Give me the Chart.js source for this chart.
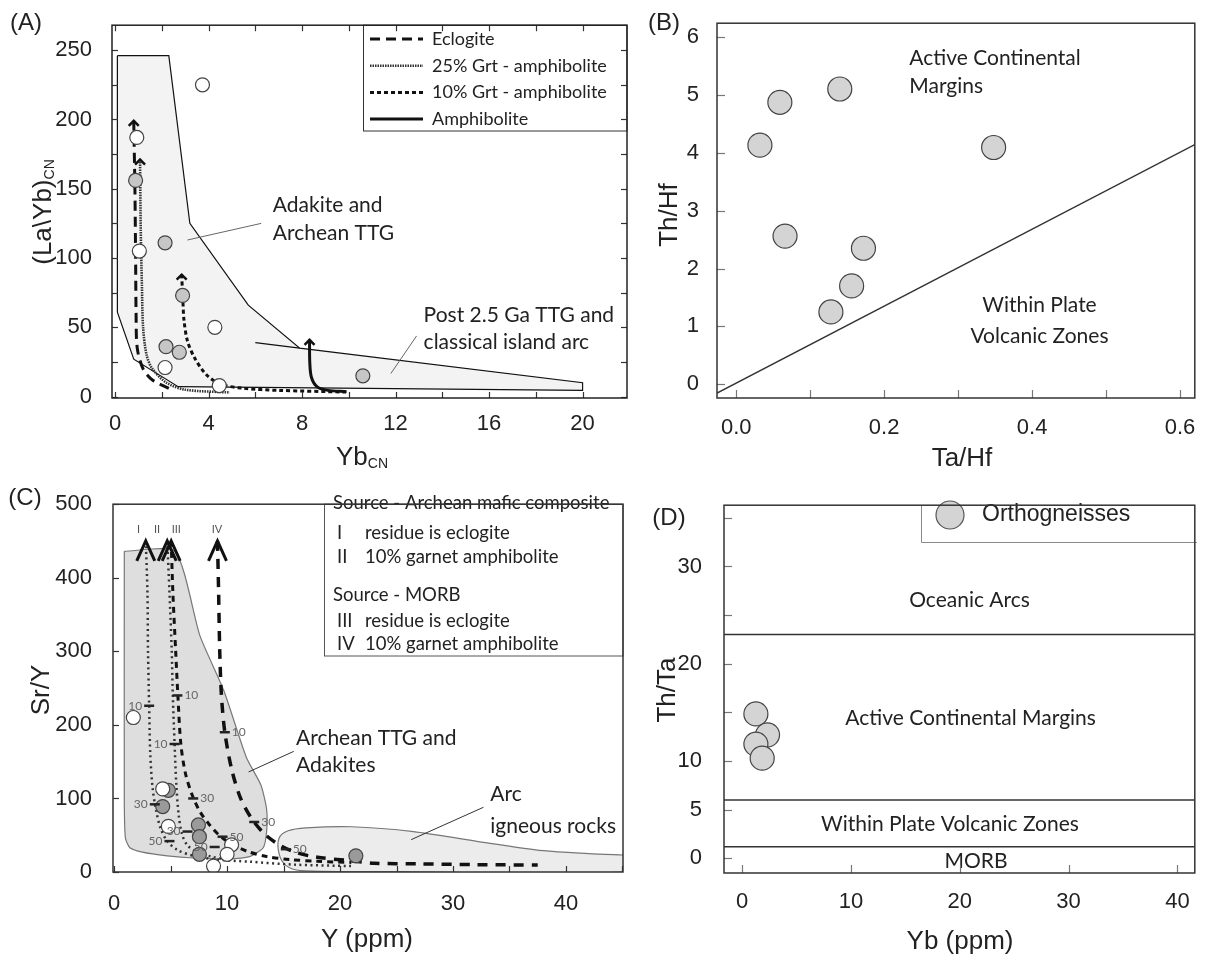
<!DOCTYPE html>
<html>
<head>
<meta charset="utf-8">
<script src="https://cdn.jsdelivr.net/npm/chart.js@4/dist/chart.umd.min.js"></script>
<style>
  body { margin: 0; width: 1208px; height: 956px; overflow: hidden; background: #fff; position: relative;
         font-family: "Liberation Sans", Arial, sans-serif; color: #222; }
  .pane { position: absolute; }
  .ttl { position: absolute; transform: translate(-50%, -50%); white-space: nowrap; font-size: 26px; }
  .rot { transform: translate(-50%, -50%) rotate(-90deg); }
  .tag { position: absolute; transform: translate(-50%, -50%); font-size: 24px; }
  sub { font-size: 14px; vertical-align: -3px; }
</style>
</head>
<body>
<div class="pane" style="left:0;top:0;width:640px;height:478px"><canvas id="cA"></canvas></div>
<div class="pane" style="left:640px;top:0;width:568px;height:478px"><canvas id="cB"></canvas></div>
<div class="pane" style="left:0;top:478px;width:640px;height:478px"><canvas id="cC"></canvas></div>
<div class="pane" style="left:640px;top:478px;width:568px;height:478px"><canvas id="cD"></canvas></div>

<div class="tag" style="left:26px;top:22px">(A)</div>
<div class="tag" style="left:664px;top:22px">(B)</div>
<div class="tag" style="left:25px;top:497px">(C)</div>
<div class="tag" style="left:669px;top:517px">(D)</div>

<div class="ttl rot" style="left:42px;top:212px">(La\Yb)<sub>CN</sub></div>
<div class="ttl" style="left:362px;top:456px">Yb<sub>CN</sub></div>
<div class="ttl rot" style="left:668px;top:215px">Th/Hf</div>
<div class="ttl" style="left:962px;top:457px">Ta/Hf</div>
<div class="ttl rot" style="left:40px;top:690px">Sr/Y</div>
<div class="ttl" style="left:367px;top:938px">Y (ppm)</div>
<div class="ttl rot" style="left:666px;top:690px">Th/Ta</div>
<div class="ttl" style="left:960px;top:940px">Yb (ppm)</div>

<script>
// ---------- (A) (La/Yb)CN vs YbCN ----------
const aXRange = [-0.13, 21.9];
const aYRange = [-1, 268];
const aWhiteX = [3.74, 0.93, 1.04, 4.27, 2.14, 4.46];
const aWhiteY = [225, 187, 105, 50, 21, 8];
const aGreyX = [0.88, 2.14, 2.89, 2.18, 2.75, 10.6];
const aGreyY = [156, 111, 73, 36, 32, 15];
const aFieldX = [0.1, 2.3, 3.2, 5.7, 7.9, 20, 20, 2.7, 0.8, 0.1, 0.1];
const aFieldY = [246, 246, 125, 66, 35, 10, 4.5, 7.2, 27, 61, 246];
const aArcLineX = [6.0, 7.9];
const aArcLineY = [39, 35];
const eclogiteX = [0.8, 0.85, 0.88, 0.9, 0.95, 1.2, 1.6, 2.3];
const eclogiteY = [199, 150, 100, 60, 35, 20, 12, 6];
const grt25X = [1.07, 1.1, 1.15, 1.2, 1.35, 1.6, 2.2, 3.0, 4.9];
const grt25Y = [171, 120, 80, 50, 30, 20, 10, 5, 3];
const grt10X = [2.85, 2.9, 2.95, 3.1, 3.4, 3.9, 4.5, 5.5, 7.0, 9.9];
const grt10Y = [88, 70, 55, 40, 28, 16, 9, 6, 4.5, 3.3];
const amphX = [8.32, 8.33, 8.4, 8.65, 9.1, 9.9];
const amphY = [41, 25, 14, 7, 4.5, 3.6];
const aLegendNames = ["Eclogite", "25% Grt - amphibolite", "10% Grt - amphibolite", "Amphibolite"];

// ---------- (B) Th/Hf vs Ta/Hf ----------
const bXRange = [-0.026, 0.62];
const bYRange = [-0.236, 6.236];
const bX = [0.14, 0.059, 0.032, 0.348, 0.066, 0.172, 0.156, 0.128];
const bY = [5.10, 4.87, 4.13, 4.09, 2.56, 2.35, 1.70, 1.25];
const bLineX = [-0.026, 0.62];
const bLineY = [-0.15, 4.14];

// ---------- (C) Sr/Y vs Y ----------
const cXRange = [-0.1, 45.05];
const cYRange = [0, 500];
const cWhiteX = [1.7, 4.3, 4.8, 10.4, 10.0, 8.8];
const cWhiteY = [210, 113, 62, 37, 24, 8];
const cGreyX = [4.8, 4.3, 7.46, 7.55, 7.55, 21.4];
const cGreyY = [111, 89, 64, 48, 24, 22];
const cFieldX = [0.9, 5.4, 7.6, 9.7, 11.7, 13.0, 13.5, 13.5, 13.2, 12.0, 10.0, 7.0, 4.7, 2.5, 1.4, 1.0, 0.9, 0.9];
const cFieldY = [436, 436, 321, 247, 156, 118, 85, 55, 33, 21, 18, 19, 22, 27, 33, 46, 100, 436];
const cArcX = [45.2, 42, 38, 32, 26.5, 21, 17, 15.4, 14.6, 14.6, 15.2, 16.5, 25, 45.2, 45.2];
const cArcY = [23, 25, 29, 42, 55, 61.5, 60, 56, 46, 25, 9, 2, 0.5, 0.5, 23];
const cIX = [2.8, 2.95, 3.0, 3.1, 3.2, 3.4, 3.7, 4.1, 4.7, 5.6, 7, 9, 12, 16, 21];
const cIY = [450, 380, 300, 226, 160, 115, 85, 60, 42, 30, 22, 17, 14, 10, 8];
const cIIX = [4.7, 4.9, 5.1, 5.2, 5.35, 5.5, 5.7, 6.0, 6.5, 7.4, 8.6, 10];
const cIIY = [450, 380, 300, 238, 175, 120, 80, 52, 36, 27, 21, 17];
const cIIIX = [5.05, 5.2, 5.45, 5.65, 5.9, 6.3, 6.9, 7.6, 8.4, 9.3, 10.4, 11.8, 13.5, 15.5, 18, 21];
const cIIIY = [450, 380, 300, 238, 175, 135, 105, 82, 65, 50, 38, 28, 21, 17, 14.5, 13];
const cIVX = [9.15, 9.25, 9.35, 9.5, 9.8, 10.4, 11.2, 12.2, 13.3, 14.5, 16, 18, 20.5, 23, 27, 32, 37.5];
const cIVY = [450, 380, 300, 240, 190, 140, 100, 72, 52, 38, 27, 20, 16, 12, 11, 10, 9.5];
const cLegendLines = ["Source - Archean mafic composite", "I|residue is eclogite", "II|10% garnet amphibolite",
                      "Source - MORB", "III|residue is eclogite", "IV|10% garnet amphibolite"];

// ---------- (D) Th/Ta vs Yb ----------
const dXRange = [-1.66, 41.6];
const dYRange = [-1.5, 36.3];
const dX = [1.27, 2.34, 1.27, 1.85];
const dY = [14.85, 12.7, 11.75, 10.3];
const dBounds = [23, 6, 1.2];

const LBL = 'Lato, "Noto Sans", sans-serif';
const NUM = '"Liberation Sans", Arial, sans-serif';

function pts(xs, ys) { return xs.map((x, i) => ({ x: x, y: ys[i] })); }

function curve(xs, ys, st) {
  return Object.assign({ data: pts(xs, ys), showLine: true, pointRadius: 0, fill: false,
    borderColor: '#111', borderWidth: 1, tension: 0, order: 5 }, st);
}
function area(xs, ys, fillc, edge, tension) {
  return { data: pts(xs, ys), showLine: true, pointRadius: 0, fill: 'shape', backgroundColor: fillc,
    borderColor: edge, borderWidth: 1.2, tension: tension, order: 10 };
}
function dots(xs, ys, fillc, r) {
  return { data: pts(xs, ys), showLine: false, pointRadius: r, pointBackgroundColor: fillc,
    pointBorderColor: '#444', pointBorderWidth: 1.2, backgroundColor: fillc, borderColor: '#444', order: 0 };
}

const styEcl = { borderDash: [10, 6], borderWidth: 3 };
const sty25 = { borderDash: [1.5, 1], borderWidth: 2.6, borderColor: '#333' };
const sty10 = { borderDash: [4, 3], borderWidth: 3 };
const styAmp = { borderWidth: 3 };

// drawing extras per canvas: texts, ticks, borders, legends
const extras = {
  cA: {
    ticks: ['left', 'right', 'top', 'bottom'], tickLen: 6, frame: '#222', frameW: 1.5, tickColor: '#333',
    notes: [
      { x: 6.75, y: 138, t: "Adakite and" }, { x: 6.75, y: 118, t: "Archean TTG" },
      { x: 13.2, y: 59, t: "Post 2.5 Ga TTG and" }, { x: 13.2, y: 39, t: "classical island arc" }
    ],
    legend: legendA
  },
  cB: {
    ticks: ['left', 'bottom'], tickLen: 8, frame: '#333', frameW: 1.5, tickColor: '#777',
    notes: [
      { x: 0.234, y: 5.63, t: "Active Continental" }, { x: 0.234, y: 5.15, t: "Margins" },
      { x: 0.41, y: 1.37, t: "Within Plate", al: 'center' }, { x: 0.41, y: 0.83, t: "Volcanic Zones", al: 'center' }
    ]
  },
  cC: {
    ticks: ['left', 'bottom'], tickLen: 6, frame: '#333', frameW: 1.5, tickColor: '#333',
    notes: [
      { x: 16.1, y: 182, t: "Archean TTG and" }, { x: 16.1, y: 145, t: "Adakites" },
      { x: 33.3, y: 106, t: "Arc" }, { x: 33.3, y: 62, t: "igneous rocks" },
      { x: 2.15, y: 466, t: "I", al: 'center', f: '11px ' + LBL, c: '#555' },
      { x: 3.8, y: 466, t: "II", al: 'center', f: '11px ' + LBL, c: '#555' },
      { x: 5.5, y: 466, t: "III", al: 'center', f: '11px ' + LBL, c: '#555' },
      { x: 9.1, y: 466, t: "IV", al: 'center', f: '11px ' + LBL, c: '#555' }
    ],
    marks: [
      { x: 3.1, y: 226, t: "10", s: -1 }, { x: 3.6, y: 92, t: "30", s: -1 }, { x: 4.9, y: 42, t: "50", s: -1 },
      { x: 5.35, y: 174, t: "10", s: -1 }, { x: 6.5, y: 55, t: "30", s: -1 }, { x: 8.9, y: 34, t: "50", s: -1 },
      { x: 5.6, y: 240, t: "10", s: 1 }, { x: 7.0, y: 100, t: "30", s: 1 }, { x: 9.6, y: 48, t: "50", s: 1 },
      { x: 9.8, y: 190, t: "10", s: 1 }, { x: 12.4, y: 68, t: "30", s: 1 }, { x: 15.2, y: 31, t: "50", s: 1 }
    ],
    legend: legendC
  },
  cD: {
    ticks: ['left', 'bottom'], tickLen: 8, frame: '#333', frameW: 1.5, tickColor: '#777',
    notes: [
      { x: 20.9, y: 26.5, t: "Oceanic Arcs", al: 'center' },
      { x: 21, y: 14.4, t: "Active Continental Margins", al: 'center' },
      { x: 19.1, y: 3.5, t: "Within Plate Volcanic Zones", al: 'center' },
      { x: 21.5, y: -0.3, t: "MORB", al: 'center' }
    ],
    legend: legendD
  }
};

function legendA(ctx, a) {
  ctx.fillStyle = '#fff'; ctx.strokeStyle = '#333'; ctx.lineWidth = 1;
  ctx.fillRect(363, a.top, a.right - 363, 131 - a.top);
  ctx.strokeRect(363.5, a.top, a.right - 363.5, 131 - a.top);
  const sty = [styEcl, sty25, sty10, styAmp];
  aLegendNames.forEach((name, i) => {
    const y = 39 + i * 26.7;
    ctx.setLineDash(sty[i].borderDash || []);
    ctx.lineWidth = sty[i].borderWidth; ctx.strokeStyle = sty[i].borderColor || '#111';
    ctx.beginPath(); ctx.moveTo(370, y); ctx.lineTo(423, y); ctx.stroke();
    ctx.setLineDash([]);
    ctx.fillStyle = '#222'; ctx.font = '18px ' + LBL; ctx.textAlign = 'left'; ctx.textBaseline = 'middle';
    ctx.fillText(name, 432, y);
  });
}

function legendC(ctx, a) {
  ctx.fillStyle = '#fff'; ctx.strokeStyle = '#555'; ctx.lineWidth = 1;
  ctx.fillRect(324, a.top, a.right - 324, 178 - a.top);
  ctx.strokeRect(324.5, a.top, a.right - 324.5, 178 - a.top);
  const ys = [25, 55, 79, 117, 143, 166];
  ctx.fillStyle = '#222'; ctx.font = '18.5px ' + LBL; ctx.textAlign = 'left'; ctx.textBaseline = 'middle';
  cLegendLines.forEach((s, i) => {
    const parts = s.split('|');
    if (parts.length === 1) ctx.fillText(s, 333, ys[i]);
    else { ctx.fillText(parts[0], 337, ys[i]); ctx.fillText(parts[1], 365, ys[i]); }
  });
}

function legendD(ctx, a) {
  ctx.strokeStyle = '#888'; ctx.lineWidth = 1;
  ctx.beginPath(); ctx.moveTo(281.5, a.top); ctx.lineTo(281.5, 64.5); ctx.lineTo(a.right + 2, 64.5); ctx.stroke();
  ctx.beginPath(); ctx.arc(310, 37, 14, 0, Math.PI * 2);
  ctx.fillStyle = '#d4d4d4'; ctx.fill(); ctx.strokeStyle = '#555'; ctx.lineWidth = 1.2; ctx.stroke();
  ctx.fillStyle = '#222'; ctx.font = '23px ' + NUM; ctx.textAlign = 'left'; ctx.textBaseline = 'middle';
  ctx.fillText("Orthogneisses", 342, 37);
}

const deco = {
  id: 'deco',
  afterDatasetsDraw(chart) {
    const e = extras[chart.canvas.id];
    const ctx = chart.ctx, a = chart.chartArea, sx = chart.scales.x, sy = chart.scales.y;
    ctx.save();
    // arrow heads at the start of the curves
    chart.data.datasets.forEach(ds => {
      if (!ds.arrow) return;
      const p = ds.data[0];
      const px = sx.getPixelForValue(p.x), py = sy.getPixelForValue(p.y);
      const [w, h, lw] = ds.arrow;
      ctx.setLineDash([]); ctx.lineWidth = lw; ctx.strokeStyle = '#111'; ctx.lineJoin = 'miter';
      ctx.beginPath(); ctx.moveTo(px - w, py + h); ctx.lineTo(px, py); ctx.lineTo(px + w, py + h); ctx.stroke();
    });
    // melting percentage marks on curves
    (e.marks || []).forEach(m => {
      const px = sx.getPixelForValue(m.x), py = sy.getPixelForValue(m.y);
      ctx.setLineDash([]); ctx.strokeStyle = '#222'; ctx.lineWidth = 2.5;
      ctx.beginPath(); ctx.moveTo(px - 5, py); ctx.lineTo(px + 5, py); ctx.stroke();
      ctx.fillStyle = '#666'; ctx.font = '12px ' + LBL; ctx.textBaseline = 'middle';
      ctx.textAlign = m.s < 0 ? 'right' : 'left';
      ctx.fillText(m.t, px + m.s * 7, py);
    });
    // region labels
    (e.notes || []).forEach(n => {
      ctx.fillStyle = n.c || '#222'; ctx.font = n.f || ('21px ' + LBL);
      ctx.textAlign = n.al || 'left'; ctx.textBaseline = 'middle';
      ctx.fillText(n.t, sx.getPixelForValue(n.x), sy.getPixelForValue(n.y));
    });
    if (e.legend) e.legend(ctx, a);
    // inward ticks
    ctx.setLineDash([]); ctx.strokeStyle = e.tickColor; ctx.lineWidth = 1.2;
    const L = e.tickLen;
    e.ticks.forEach(side => {
      const sc = (side === 'left' || side === 'right') ? sy : sx;
      sc.ticks.forEach(t => {
        const p = Math.round(sc.getPixelForValue(t.value)) + 0.5;
        ctx.beginPath();
        if (side === 'bottom') { ctx.moveTo(p, a.bottom); ctx.lineTo(p, a.bottom - L); }
        if (side === 'top') { ctx.moveTo(p, a.top); ctx.lineTo(p, a.top + L); }
        if (side === 'left') { ctx.moveTo(a.left, p); ctx.lineTo(a.left + L, p); }
        if (side === 'right') { ctx.moveTo(a.right, p); ctx.lineTo(a.right - L, p); }
        ctx.stroke();
      });
    });
    ctx.strokeStyle = e.frame; ctx.lineWidth = e.frameW;
    ctx.strokeRect(a.left, a.top, a.width, a.height);
    ctx.restore();
  }
};

function axis(range, step, pad, fmt, fit) {
  return {
    type: 'linear', min: range[0], max: range[1],
    grid: { display: false }, border: { display: false },
    ticks: { stepSize: step, includeBounds: false, autoSkip: false, maxRotation: 0, padding: pad,
      color: '#222', font: { size: 22, family: NUM }, callback: fmt },
    afterFit: fit
  };
}

function make(id, datasets, xs, ys, padding) {
  new Chart(document.getElementById(id), {
    type: 'scatter',
    data: { datasets: datasets },
    options: {
      responsive: true, maintainAspectRatio: false, animation: false, events: [],
      layout: { padding: padding },
      plugins: { legend: { display: false }, tooltip: { enabled: false } },
      scales: { x: xs, y: ys }
    },
    plugins: [deco]
  });
}

// (A)
make('cA', [
  dots(aWhiteX, aWhiteY, '#ffffff', 7),
  dots(aGreyX, aGreyY, '#c6c6c6', 7),
  Object.assign(curve(eclogiteX, eclogiteY, styEcl), { tension: 0.3, arrow: [5, 5, 2.5] }),
  Object.assign(curve(grt25X, grt25Y, sty25), { tension: 0.3, arrow: [5, 5, 2.5] }),
  Object.assign(curve(grt10X, grt10Y, sty10), { tension: 0.3, arrow: [5, 5, 2.5] }),
  Object.assign(curve(amphX, amphY, styAmp), { tension: 0.3, arrow: [5, 5, 2.5] }),
  curve([3.1, 6.25], [113, 125], { borderColor: '#666' }),
  curve([11.8, 12.9], [16.7, 43.8], { borderColor: '#666' }),
  curve(aArcLineX, aArcLineY, { borderWidth: 1.2 }),
  area(aFieldX, aFieldY, '#f3f3f3', '#111', 0)
],
  axis(aXRange, 2, 5, v => (v % 4 === 0 ? v : ''), s => { s.height = 80; }),
  axis(aYRange, 25, 12, v => (v % 50 === 0 ? v : ''), s => { s.width = 112; }),
  { left: 0, top: 17, right: 13, bottom: 0 });

// (B)
make('cB', [
  dots(bX, bY, '#d4d4d4', 12),
  curve(bLineX, bLineY, { borderWidth: 1.5, borderColor: '#333' })
],
  axis(bXRange, 0.1, 9, v => (Math.round(v * 10) % 2 === 0 ? v.toFixed(1) : ''), s => { s.height = 80; }),
  axis(bYRange, 1, 10, v => v, s => { s.width = 77; }),
  { left: 0, top: 14, right: 1, bottom: 0 });

// (C)
make('cC', [
  dots(cWhiteX, cWhiteY, '#ffffff', 7),
  dots(cGreyX, cGreyY, '#9a9a9a', 7),
  Object.assign(curve(cIX, cIY, { borderDash: [2, 3.5], borderWidth: 2.5, borderColor: '#333' }), { tension: 0.3, arrow: [9, 20, 3] }),
  Object.assign(curve(cIIX, cIIY, { borderDash: [2, 3.5], borderWidth: 2.5, borderColor: '#333' }), { tension: 0.3, arrow: [9, 20, 3] }),
  Object.assign(curve(cIIIX, cIIIY, { borderDash: [6, 5], borderWidth: 3 }), { tension: 0.3, arrow: [9, 20, 3] }),
  Object.assign(curve(cIVX, cIVY, { borderDash: [10, 8], borderWidth: 3.5 }), { tension: 0.3, arrow: [9, 20, 3] }),
  curve([11.9, 15.9], [136, 164], { borderColor: '#333' }),
  curve([26.3, 32.7], [44, 88], { borderColor: '#333' }),
  area(cFieldX, cFieldY, '#dedede', '#777', 0.2),
  area(cArcX, cArcY, '#ececec', '#777', 0.3)
],
  axis(cXRange, 5, 11, v => (v % 10 === 0 ? v : ''), s => { s.height = 84; }),
  axis(cYRange, 100, 13, v => v, s => { s.width = 113; }),
  { left: 0, top: 12, right: 17, bottom: 0 });

// (D)
make('cD', [
  dots(dX, dY, '#d4d4d4', 12),
  ...dBounds.map(b => curve([dXRange[0], dXRange[1]], [b, b], { borderWidth: 1.5, borderColor: '#333' }))
],
  axis(dXRange, 10, 8, v => v, s => { s.height = 83; }),
  axis(dYRange, 5, 14, v => ([0, 5, 10, 20, 30].includes(v) ? v : ''), s => { s.width = 84; }),
  { left: 0, top: 13, right: 2, bottom: 0 });
</script>
</body>
</html>
